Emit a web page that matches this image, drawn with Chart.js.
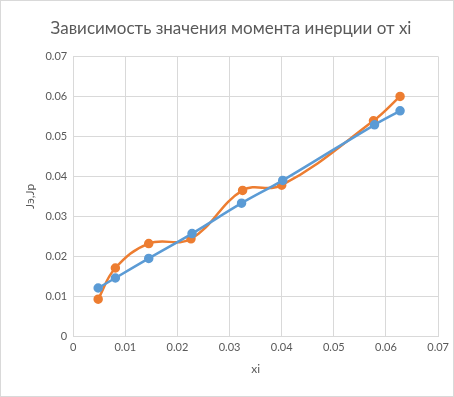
<!DOCTYPE html>
<html>
<head>
<meta charset="utf-8">
<script src="https://cdn.jsdelivr.net/npm/chart.js@4/dist/chart.umd.min.js"></script>
<style>
  html, body { margin: 0; padding: 0; background: #fff; }
  #wrap { position: relative; width: 454px; height: 397px; box-sizing: border-box; border: 1px solid #d9d9d9; }
</style>
</head>
<body>
<div id="wrap"><canvas id="chart" width="452" height="395"></canvas></div>
<script>
const titleText = "Зависимость значения момента инерции от xi";
const xAxisTitle = "xi";
const yAxisTitle = "Jэ,Jр";

const xiBlue = [0.0048, 0.0081, 0.0145, 0.0228, 0.0323, 0.0402, 0.0578, 0.0627];
const jBlue  = [0.0121, 0.0146, 0.0195, 0.0257, 0.0333, 0.0390, 0.0529, 0.0564];
const xiOrange = [0.0048, 0.0081, 0.0145, 0.0226, 0.0325, 0.0400, 0.0576, 0.0627];
const jOrange  = [0.0093, 0.0171, 0.0232, 0.0244, 0.0365, 0.0378, 0.0539, 0.0600];

const toPoints = (xs, ys) => xs.map((x, i) => ({ x: x, y: ys[i] }));

const gray = "#595959";
const gridColor = "#d9d9d9";
const font = "Lato, 'Open Sans', sans-serif";

const ctx = document.getElementById("chart").getContext("2d");
new Chart(ctx, {
  type: "scatter",
  data: {
    datasets: [
      {
        label: "Jэ",
        data: toPoints(xiBlue, jBlue),
        showLine: true,
        tension: 0.4,
        borderColor: "#5B9BD5",
        backgroundColor: "#5B9BD5",
        borderWidth: 2.5,
        pointRadius: 3.5,
        pointHoverRadius: 3.5
      },
      {
        label: "Jр",
        data: toPoints(xiOrange, jOrange),
        showLine: true,
        tension: 0.4,
        borderColor: "#ED7D31",
        backgroundColor: "#ED7D31",
        borderWidth: 2.5,
        pointRadius: 3.5,
        pointHoverRadius: 3.5
      }
    ]
  },
  options: {
    responsive: false,
    animation: false,
    layout: { padding: { left: 18, right: 10, top: 0, bottom: 16 } },
    plugins: {
      legend: { display: false },
      tooltip: { enabled: false },
      title: {
        display: true,
        text: titleText,
        color: gray,
        font: { family: font, size: 17, weight: "normal" },
        padding: { top: 17, bottom: 18 }
      }
    },
    scales: {
      x: {
        type: "linear",
        min: 0,
        max: 0.07,
        ticks: { stepSize: 0.01, color: gray, font: { family: font, size: 11 }, padding: 4 },
        grid: { color: gridColor, drawTicks: false, lineWidth: 1 },
        border: { color: gridColor },
        title: {
          display: true,
          text: xAxisTitle,
          color: gray,
          font: { family: font, size: 12 },
          padding: { top: 4 }
        }
      },
      y: {
        min: 0,
        max: 0.07,
        ticks: { stepSize: 0.01, color: gray, font: { family: font, size: 11 }, padding: 6 },
        grid: { color: gridColor, drawTicks: false, lineWidth: 1 },
        border: { color: gridColor },
        title: {
          display: true,
          text: yAxisTitle,
          color: gray,
          font: { family: font, size: 12 },
          padding: { bottom: 2 }
        }
      }
    }
  }
});
</script>
</body>
</html>
